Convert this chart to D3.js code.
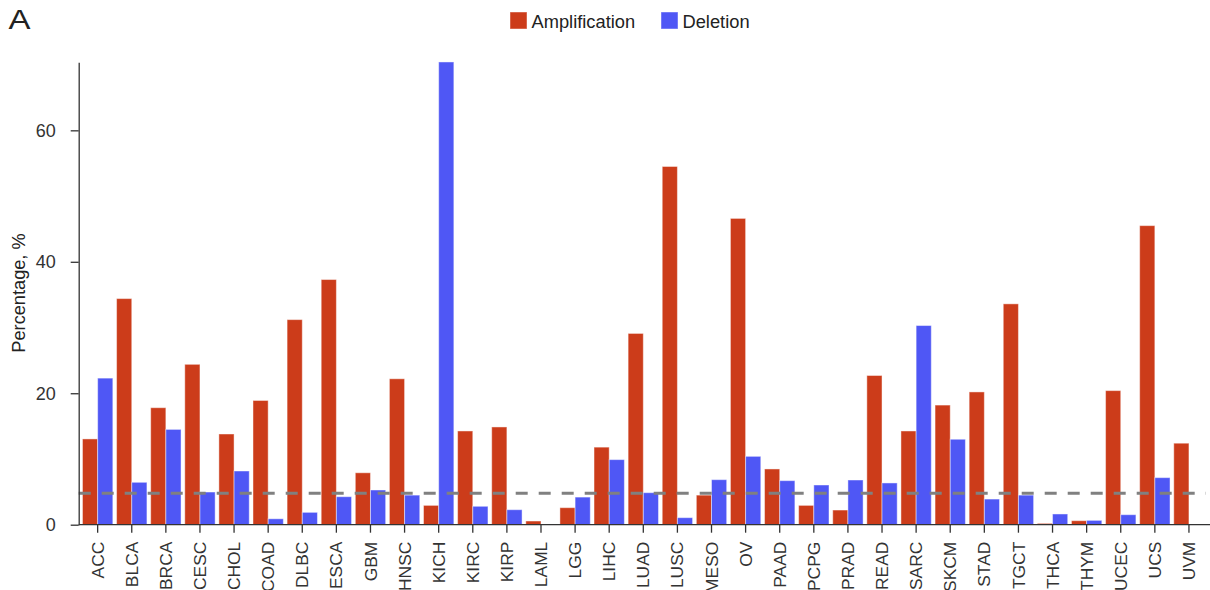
<!DOCTYPE html>
<html><head><meta charset="utf-8">
<script src="https://cdn.jsdelivr.net/npm/d3@7"></script>
<style>
html,body{margin:0;padding:0;background:#fff;}
svg{display:block;font-family:"Liberation Sans",Arial,Helvetica,sans-serif;}
</style></head>
<body>
<svg id="chart" width="1210" height="590"></svg>
<script>
const categories = ["ACC","BLCA","BRCA","CESC","CHOL","COAD","DLBC","ESCA","GBM","HNSC","KICH","KIRC","KIRP","LAML","LGG","LIHC","LUAD","LUSC","MESO","OV","PAAD","PCPG","PRAD","READ","SARC","SKCM","STAD","TGCT","THCA","THYM","UCEC","UCS","UVM"];
const amplification = [13.05,34.4,17.8,24.4,13.8,18.9,31.2,37.3,7.9,22.2,2.94,14.26,14.87,0.56,2.59,11.8,29.1,54.5,4.5,46.6,8.48,2.94,2.23,22.7,14.26,18.2,20.2,33.6,0.2,0.61,20.4,45.5,12.4];
const deletion = [22.3,6.45,14.5,4.97,8.17,0.9,1.88,4.26,5.28,4.5,70.4,2.8,2.28,0,4.2,9.9,4.87,1.07,6.85,10.4,6.7,6.04,6.8,6.35,30.3,13.0,3.9,4.5,1.63,0.66,1.52,7.16,0];
const series = ["Amplification","Deletion"];
const colors = ["#cc3c1a","#4f57f5"];
const yTicks = [0,20,40,60];
const threshold = 4.8;
const yMax = 70.35;

(function(){
const svg = d3.select("#chart");
const mLeft = 78.7, mRight = 1210, mTop = 62.3, mBottom = 524.7;

const x0 = d3.scaleBand().domain(categories).range([80.6, 1206]).paddingInner(0.11).paddingOuter(0.055);
const x1 = d3.scaleBand().domain(series).range([0, x0.bandwidth()]);
const y = d3.scaleLinear().domain([0, yMax]).range([mBottom, mTop]);
const color = d3.scaleOrdinal().domain(series).range(colors);

const rows = categories.map((c,i)=>({cat:c, vals:[{s:"Amplification",v:amplification[i]},{s:"Deletion",v:deletion[i]}]}));

const g = svg.append("g");
g.selectAll("g.grp").data(rows).join("g").attr("class","grp")
  .attr("transform", d=>`translate(${x0(d.cat)},0)`)
  .selectAll("rect").data(d=>d.vals.filter(e=>e.v>0)).join("rect")
  .attr("x", d=>x1(d.s)).attr("width", x1.bandwidth())
  .attr("y", d=>y(d.v)).attr("height", d=>y(0)-y(d.v))
  .attr("fill", d=>color(d.s))
  .attr("stroke", "#fff").attr("stroke-opacity",0.45).attr("stroke-width",1);

svg.append("line")
  .attr("x1", mLeft).attr("x2", 1206)
  .attr("y1", y(threshold)).attr("y2", y(threshold))
  .attr("stroke", "#808080").attr("stroke-width", 3)
  .attr("stroke-dasharray", "12,11");

const yAxis = svg.append("g").attr("transform", `translate(${mLeft},0)`)
  .call(d3.axisLeft(y).tickValues(yTicks).tickSize(8).tickPadding(15).tickSizeOuter(0));
yAxis.select(".domain").attr("stroke","#333").attr("stroke-width",1.3);
yAxis.selectAll(".tick line").attr("stroke","#333").attr("stroke-width",1.3);
yAxis.selectAll(".tick text").attr("fill","#333").style("font-size","18px");

const xAxis = svg.append("g").attr("transform", `translate(0,${mBottom})`)
  .call(d3.axisBottom(x0).tickSize(8).tickPadding(9).tickSizeOuter(0));
xAxis.select(".domain").remove();
xAxis.append("line").attr("x1", mLeft).attr("x2", mRight).attr("y1",0).attr("y2",0)
  .attr("stroke","#333").attr("stroke-width",1.3);
xAxis.selectAll(".tick line").attr("stroke","#333").attr("stroke-width",1.3);
xAxis.selectAll(".tick text")
  .attr("fill","#333").style("font-size","17.4px")
  .attr("transform","rotate(-90)")
  .attr("text-anchor","end")
  .attr("x", -17).attr("y", 0).attr("dy","0.35em");

svg.append("text").attr("transform", `translate(24.5,${(mTop+mBottom)/2 - 0.5}) rotate(-90)`)
  .attr("text-anchor","middle").attr("fill","#222").style("font-size","18.2px")
  .text("Percentage, %");

svg.append("text").attr("transform","translate(8.5,29.3) scale(1.22,1)")
  .attr("fill","#222").style("font-size","27px").text("A");

const legendX = [510, 661];
const lg = svg.append("g");
series.forEach((s,i)=>{
  lg.append("rect").attr("x", legendX[i]).attr("y", 12).attr("width",17).attr("height",17)
    .attr("fill", color(s)).attr("stroke","#fff").attr("stroke-opacity",0.45);
  lg.append("text").attr("x", legendX[i]+21.5).attr("y", 27.5).attr("fill","#222")
    .style("font-size","18.3px").text(s);
});
})();
</script>
</body></html>
